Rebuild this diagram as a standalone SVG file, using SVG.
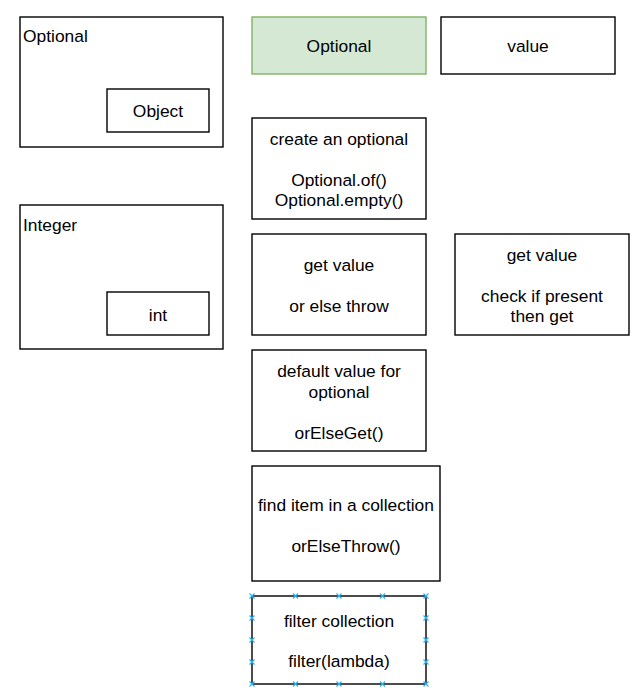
<svg xmlns="http://www.w3.org/2000/svg" width="641" height="696" viewBox="0 0 641 696">
<style>
.box{fill:#ffffff;stroke:#000000;stroke-width:1.4}
.green{fill:#d5e8d4;stroke:#82b366;stroke-width:1.4}
text{font-family:"Liberation Sans",Arial,sans-serif;font-size:17.4px;fill:#000000}
.c{text-anchor:middle}
.x{stroke:#29b6f2;stroke-width:1.2}
</style>
<defs>
<path id="cross" class="x" d="M-2.5,-2.5L2.5,2.5M-2.5,2.5L2.5,-2.5"/>
</defs>
<rect width="641" height="696" fill="#ffffff"/>
<g id="optional-container">
<rect class="box" x="20" y="17" width="203" height="130"/>
<text x="23" y="42">Optional</text>
</g>
<g id="object">
<rect class="box" x="107" y="89" width="102" height="43"/>
<text class="c" x="158" y="117">Object</text>
</g>
<g id="integer-container">
<rect class="box" x="20" y="205" width="203" height="144"/>
<text x="23" y="231">Integer</text>
</g>
<g id="int">
<rect class="box" x="107" y="292" width="102" height="43"/>
<text class="c" x="158" y="321">int</text>
</g>
<g id="optional">
<rect class="green" x="252" y="17" width="174" height="57"/>
<text class="c" x="339" y="52">Optional</text>
</g>
<g id="value">
<rect class="box" x="441" y="17" width="174" height="57"/>
<text class="c" x="528" y="52">value</text>
</g>
<g id="create">
<rect class="box" x="252" y="118" width="174" height="101"/>
<text class="c" x="339" y="145">create an optional</text>
<text class="c" x="339" y="186">Optional.of()</text>
<text class="c" x="339" y="206">Optional.empty()</text>
</g>
<g id="get-value-throw">
<rect class="box" x="252" y="234" width="174" height="101"/>
<text class="c" x="339" y="271">get value</text>
<text class="c" x="339" y="312">or else throw</text>
</g>
<g id="get-value-check">
<rect class="box" x="455" y="234" width="174" height="101"/>
<text class="c" x="542" y="261">get value</text>
<text class="c" x="542" y="302">check if present</text>
<text class="c" x="542" y="322">then get</text>
</g>
<g id="default-value">
<rect class="box" x="252" y="350" width="174" height="101"/>
<text class="c" x="339" y="377">default value for</text>
<text class="c" x="339" y="398">optional</text>
<text class="c" x="339" y="439">orElseGet()</text>
</g>
<g id="find-item">
<rect class="box" x="252" y="466" width="188" height="115"/>
<text class="c" x="346" y="511">find item in a collection</text>
<text class="c" x="346" y="552">orElseThrow()</text>
</g>
<g id="filter">
<rect class="box" x="252" y="596" width="174" height="88"/>
<text class="c" x="339" y="627">filter collection</text>
<text class="c" x="339" y="667">filter(lambda)</text>
<use href="#cross" x="252" y="596"/><use href="#cross" x="295.5" y="596"/><use href="#cross" x="339" y="596"/><use href="#cross" x="382.5" y="596"/><use href="#cross" x="426" y="596"/>
<use href="#cross" x="252" y="684"/><use href="#cross" x="295.5" y="684"/><use href="#cross" x="339" y="684"/><use href="#cross" x="382.5" y="684"/><use href="#cross" x="426" y="684"/>
<use href="#cross" x="252" y="618"/><use href="#cross" x="252" y="640"/><use href="#cross" x="252" y="662"/>
<use href="#cross" x="426" y="618"/><use href="#cross" x="426" y="640"/><use href="#cross" x="426" y="662"/>
</g>
<g id="connectors"></g>
</svg>
